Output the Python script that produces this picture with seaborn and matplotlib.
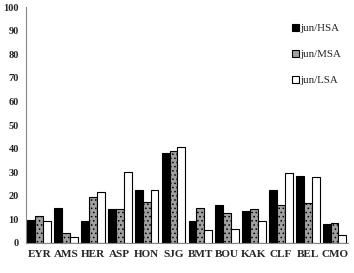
import numpy as np
import pandas as pd
import matplotlib
matplotlib.use("Agg")
import matplotlib.pyplot as plt
import seaborn as sns

sites = ["EYR", "AMS", "HER", "ASP", "HON", "SJG", "BMT", "BOU", "KAK", "CLF", "BEL", "CMO"]
series = ["jun/HSA", "jun/MSA", "jun/LSA"]
hsa = [9.8, 15.0, 9.5, 14.5, 22.3, 38.0, 9.2, 16.3, 13.6, 22.5, 28.3, 8.0]
msa = [11.6, 4.2, 19.5, 14.5, 17.2, 39.2, 14.8, 12.7, 14.5, 16.2, 17.0, 8.3]
lsa = [9.5, 2.7, 21.7, 30.2, 22.6, 40.8, 5.6, 6.0, 9.5, 29.5, 27.9, 3.5]

df = pd.DataFrame({"site": sites * 3,
                   "series": np.repeat(series, len(sites)),
                   "value": hsa + msa + lsa})

sns.set_style("white")
plt.rcParams["font.family"] = ["Liberation Serif", "DejaVu Serif"]
plt.rcParams["hatch.color"] = "#555555"
plt.rcParams["hatch.linewidth"] = 0.6

fig, ax = plt.subplots(figsize=(3.54, 2.73), dpi=100)
fig.subplots_adjust(left=0.073, right=0.983, bottom=0.11, top=0.974)

colors = ["black", "#a0a0a0", "white"]
sns.barplot(data=df, x="site", y="value", hue="series", palette=colors,
            width=0.88, edgecolor="black", linewidth=0.8, saturation=1,
            ax=ax, legend=True)

# speckled look for the middle series
for bar in ax.containers[1]:
    bar.set_hatch("....")

ax.set_ylim(0, 100)
ax.set_yticks(range(0, 101, 10))
ax.set_xlim(-0.5, len(sites) - 0.5)
ax.set_xlabel("")
ax.set_ylabel("")
sns.despine(ax=ax)
ax.spines["left"].set_color("#888888")
ax.spines["bottom"].set_color("#888888")
ax.tick_params(axis="y", length=0, labelsize=7.5, pad=5)
ax.tick_params(axis="x", which="major", length=0, labelsize=8, pad=5)
ax.set_xticks(np.arange(-0.5, len(sites)), minor=True)
ax.tick_params(axis="x", which="minor", length=3, color="#888888")
for lbl in ax.get_xticklabels() + ax.get_yticklabels():
    lbl.set_fontweight("bold")

leg = ax.legend(loc="upper right", bbox_to_anchor=(1.01, 0.97), frameon=False,
                fontsize=7.8, labelspacing=1.55, handlelength=0.6,
                handleheight=0.6, handletextpad=0.15)

fig.savefig("out.png", dpi=100)
